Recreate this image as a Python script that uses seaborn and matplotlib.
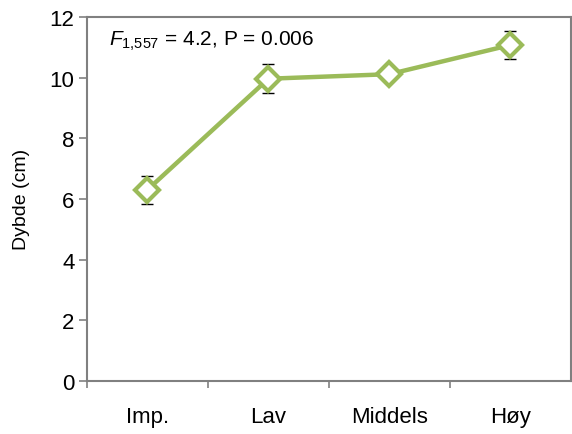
import matplotlib
matplotlib.use("Agg")
import matplotlib.pyplot as plt
import seaborn as sns
import pandas as pd
import numpy as np

categories = ["Imp.", "Lav", "Middels", "Høy"]
depth_mean = [6.30, 9.96, 10.11, 11.07]
depth_err = [0.46, 0.48, 0.10, 0.45]
y_ticks = [0, 2, 4, 6, 8, 10, 12]
annotation = "$\\mathit{F}_{1{,}557}$ = 4.2, P = 0.006"

sns.set_theme(style="white")
plt.rcParams["font.family"] = ["Liberation Sans", "DejaVu Sans"]
plt.rcParams["mathtext.fontset"] = "custom"
plt.rcParams["mathtext.rm"] = "Liberation Sans"
plt.rcParams["mathtext.it"] = "Liberation Sans:italic"
plt.rcParams["text.color"] = "black"
plt.rcParams["axes.labelcolor"] = "black"
plt.rcParams["xtick.color"] = "black"
plt.rcParams["ytick.color"] = "black"

df = pd.DataFrame({"cat": categories, "depth": depth_mean})

fig = plt.figure(figsize=(5.72, 4.35), dpi=100)
ax = fig.add_axes([0.152, 0.122, 0.846, 0.837])

green = "#9BBB59"
ax.errorbar(np.arange(len(categories)), depth_mean, yerr=depth_err, fmt="none",
            ecolor="black", elinewidth=1.0, capsize=4.5, capthick=1.0, zorder=2)
sns.pointplot(data=df, x="cat", y="depth", color=green, markers="D",
              linestyles="-", errorbar=None, ax=ax, zorder=3)
for line in ax.lines:
    if line.get_marker() == "D" or line.get_linestyle() == "-":
        line.set_linewidth(3.2)
        line.set_markersize(12)
        line.set_markerfacecolor("white")
        line.set_markeredgecolor(green)
        line.set_markeredgewidth(3.0)
        line.set_zorder(3)

ax.set_xlim(-0.5, 3.5)
ax.set_ylim(0, 12)
ax.set_yticks(y_ticks)
ax.set_yticklabels([str(t) for t in y_ticks], fontsize=16)
ax.set_xticks(range(len(categories)))
ax.set_xticklabels(categories, fontsize=16)
ax.set_xticks([-0.5, 0.5, 1.5, 2.5], minor=True)
ax.tick_params(axis="x", which="major", length=0, pad=18, colors="black")
ax.tick_params(axis="x", which="minor", length=5, width=1.2, color="#808080", direction="out", bottom=True)
ax.tick_params(axis="y", length=6, width=1.2, color="#808080", labelcolor="black", direction="out", left=True, pad=3)
ax.set_xlabel("")
ax.set_ylabel("Dybde (cm)", fontsize=14, labelpad=14, color="black")

for s in ax.spines.values():
    s.set_color("#808080")
    s.set_linewidth(1.5)
    s.set_visible(True)

ax.text(0.045, 0.935, annotation, transform=ax.transAxes, fontsize=15,
        ha="left", va="center", color="black")

fig.savefig("out.png", dpi=100)
